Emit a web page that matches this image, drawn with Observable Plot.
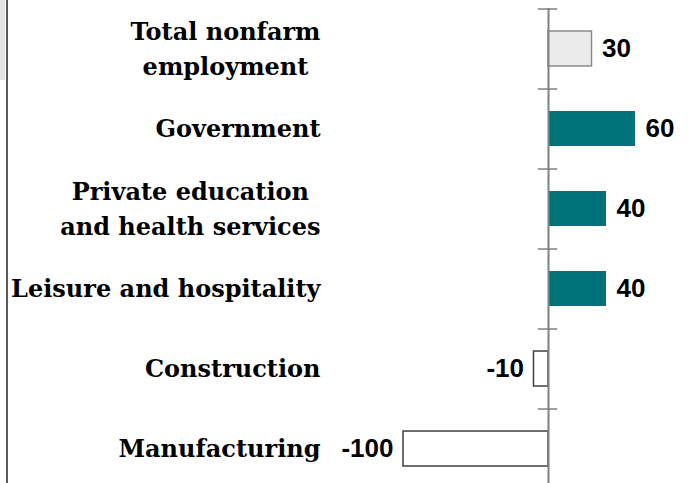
<!DOCTYPE html>
<html>
<head>
<meta charset="utf-8">
<script src="https://cdn.jsdelivr.net/npm/d3@7"></script>
<script src="https://cdn.jsdelivr.net/npm/@observablehq/plot@0.6"></script>
<style>
  html, body { margin: 0; padding: 0; background: #fff; }
  #wrap { position: relative; width: 689px; height: 483px; overflow: hidden; }
  #edge { position: absolute; left: 6px; top: 0; width: 2px; height: 483px; background: #5a5a5a; }
  #patch { position: absolute; left: 0; top: 0; width: 5px; height: 80px; background: #e4e4e4; }
  #chart svg { display: block; }
</style>
</head>
<body>
<div id="wrap"><div id="chart"></div><div id="patch"></div><div id="edge"></div></div>
<script>
const categories = ["Total nonfarm employment", "Government", "Private education and health services", "Leisure and hospitality", "Construction", "Manufacturing"];
const labelLines = [["Total nonfarm", "employment"], ["Government"], ["Private education", "and health services"], ["Leisure and hospitality"], ["Construction"], ["Manufacturing"]];
const values = [30, 60, 40, 40, -10, -100];
const groups = ["total", "growth", "growth", "growth", "decline", "decline"];

const data = categories.map((c, i) => ({cat: c, value: values[i], group: groups[i], lines: labelLines[i]}));

const labelSize = 24;
const ctx = document.createElement("canvas").getContext("2d");
ctx.font = `bold ${labelSize}px 'DejaVu Serif'`;
const blockWidth = d => Math.max(...d.lines.map(l => ctx.measureText(l).width));
const labelRight = 320;

const labelMarks = data.map(d => Plot.text([d], {
  y: "cat",
  text: r => r.lines.join("\n"),
  frameAnchor: "left",
  textAnchor: "middle",
  dx: labelRight - blockWidth(d) / 2,
  dy: -3,
  fontFamily: "DejaVu Serif",
  fontWeight: "bold",
  fontSize: labelSize,
  lineHeight: 1.45,
  fill: "#000"
}));

const chart = Plot.plot({
  width: 689,
  height: 483,
  marginLeft: 0, marginRight: 0, marginTop: 0, marginBottom: 0,
  x: {domain: [-100, 60], range: [403, 635], axis: null},
  y: {domain: categories, range: [8, 488], paddingInner: 0.5625, paddingOuter: 0.28125, axis: null},
  marks: [
    Plot.barX(data.filter(d => d.group === "total"), {y: "cat", x1: 0, x2: "value", fill: "#ebebeb", stroke: "#8a8a8a", strokeWidth: 1.5}),
    Plot.barX(data.filter(d => d.group === "growth"), {y: "cat", x1: 0, x2: "value", fill: "#00737a"}),
    Plot.barX(data.filter(d => d.group === "decline"), {y: "cat", x1: 0, x2: "value", fill: "#fff", stroke: "#404040", strokeWidth: 1.5}),
    Plot.ruleX([0], {stroke: "#808080", strokeWidth: 2, insetTop: 8}),
    Plot.ruleY(data, {y: "cat", x1: -7, x2: 6.3, stroke: "#808080", strokeWidth: 1.5, dy: -40}),
    Plot.text(data.filter(d => d.value >= 0), {y: "cat", x: "value", text: d => String(d.value), textAnchor: "start", dx: 10, fontFamily: "Liberation Sans", fontWeight: "bold", fontSize: 26, fill: "#000"}),
    Plot.text(data.filter(d => d.value < 0), {y: "cat", x: "value", text: d => String(d.value), textAnchor: "end", dx: -10, fontFamily: "Liberation Sans", fontWeight: "bold", fontSize: 26, fill: "#000"}),
    ...labelMarks
  ]
});
document.getElementById("chart").appendChild(chart);
</script>
</body>
</html>
